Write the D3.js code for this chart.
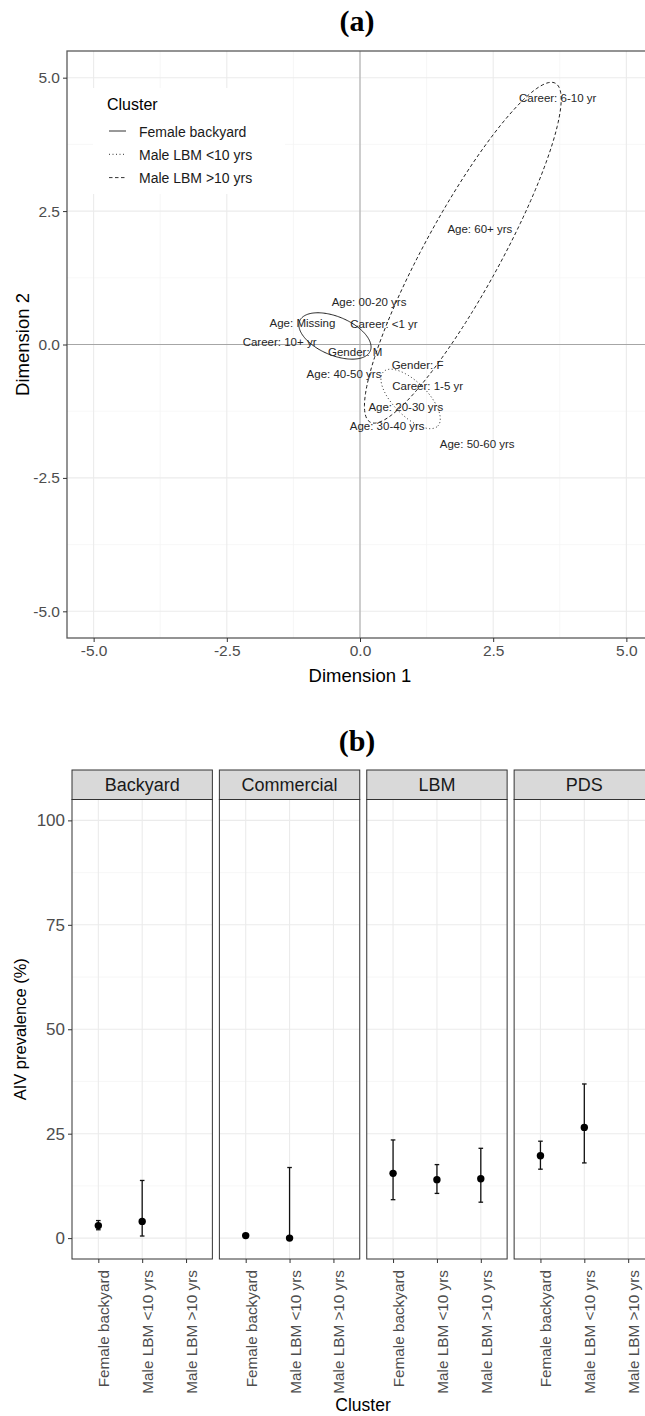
<!DOCTYPE html>
<html>
<head>
<meta charset="utf-8">
<script src="https://cdn.jsdelivr.net/npm/d3@7"></script>
<style>
  body { margin: 0; background: #fff; }
  svg { display: block; }
  text { font-family: Arial, "Liberation Sans", sans-serif; }
</style>
</head>
<body>
<svg id="chart" width="645" height="1416"></svg>
<script>
// ---------- Panel (a): MCA category coordinates ----------
const mcaLabels = ["Career: 6-10 yr", "Age: 60+ yrs", "Age: 00-20 yrs", "Age: Missing", "Career: <1 yr",
  "Career: 10+ yr", "Gender: M", "Gender: F", "Age: 40-50 yrs", "Career: 1-5 yr",
  "Age: 20-30 yrs", "Age: 30-40 yrs", "Age: 50-60 yrs"];
const mcaDim1 = [3.71, 2.25, 0.17, -1.08, 0.45, -1.51, -0.09, 1.08, -0.30, 1.27, 0.86, 0.51, 2.20];
const mcaDim2 = [4.62, 2.17, 0.80, 0.40, 0.38, 0.05, -0.14, -0.38, -0.55, -0.78, -1.17, -1.52, -1.87];

// Cluster ellipses (centre, semi-axes, rotation)
const clusters = ["Female backyard", "Male LBM <10 yrs", "Male LBM >10 yrs"];
const ellipseCx = [-0.47, 0.95, 1.93];
const ellipseCy = [0.16, -1.02, 1.72];
const ellipseSemiMajor = [0.72, 0.72, 3.62];
const ellipseSemiMinor = [0.36, 0.32, 0.71];
const ellipseAngleDeg = [-23, -45, 61.3];

const dimTicks = [-5, -2.5, 0, 2.5, 5];
const dimMinor = [-3.75, -1.25, 1.25, 3.75];

// ---------- Panel (b): AIV prevalence by farm type and cluster ----------
const facets = ["Backyard", "Commercial", "LBM", "PDS"];
const prevFacet = ["Backyard", "Backyard", "Commercial", "Commercial", "LBM", "LBM", "LBM", "PDS", "PDS"];
const prevCluster = ["Female backyard", "Male LBM <10 yrs", "Female backyard", "Male LBM <10 yrs",
  "Female backyard", "Male LBM <10 yrs", "Male LBM >10 yrs", "Female backyard", "Male LBM <10 yrs"];
const prevEstimate = [3.0, 4.0, 0.6, 0.0, 15.5, 14.0, 14.2, 19.7, 26.5];
const prevLower = [2.0, 0.5, 0.6, 0.0, 9.2, 10.7, 8.6, 16.5, 18.0];
const prevUpper = [4.2, 13.8, 0.6, 16.9, 23.5, 17.6, 21.5, 23.2, 36.9];
const prevTicks = [0, 25, 50, 75, 100];
const prevMinor = [12.5, 37.5, 62.5, 87.5];

// ---------- styling ----------
const lineStyles = { "Female backyard": null, "Male LBM <10 yrs": "1,2.5", "Male LBM >10 yrs": "3.5,2.5" };
const gridMajor = "#ebebeb", gridMinor = "#f4f4f4";
const tickText = "#4d4d4d";

const svg = d3.select("#chart");

// ================= Panel (a) =================
const ax = d3.scaleLinear().domain([-5.5, 5.5]).range([67, 653]);
const ay = d3.scaleLinear().domain([-5.5, 5.5]).range([638, 51]);
const gA = svg.append("g");

svg.append("text").attr("x", 357).attr("y", 31).attr("text-anchor", "middle")
  .style("font-family", "'Liberation Serif', 'Times New Roman', serif")
  .style("font-weight", "bold").style("font-size", "30px").text("(a)");

// grid
gA.selectAll(".vminor").data(dimMinor).join("line")
  .attr("x1", d => ax(d)).attr("x2", d => ax(d)).attr("y1", ay.range()[0]).attr("y2", ay.range()[1])
  .attr("stroke", gridMinor).attr("stroke-width", 0.7);
gA.selectAll(".hminor").data(dimMinor).join("line")
  .attr("y1", d => ay(d)).attr("y2", d => ay(d)).attr("x1", ax.range()[0]).attr("x2", ax.range()[1])
  .attr("stroke", gridMinor).attr("stroke-width", 0.7);
gA.selectAll(".vmajor").data(dimTicks).join("line")
  .attr("x1", d => ax(d)).attr("x2", d => ax(d)).attr("y1", ay.range()[0]).attr("y2", ay.range()[1])
  .attr("stroke", gridMajor).attr("stroke-width", 1.1);
gA.selectAll(".hmajor").data(dimTicks).join("line")
  .attr("y1", d => ay(d)).attr("y2", d => ay(d)).attr("x1", ax.range()[0]).attr("x2", ax.range()[1])
  .attr("stroke", gridMajor).attr("stroke-width", 1.1);

// reference lines at the origin
gA.append("line").attr("x1", ax(0)).attr("x2", ax(0)).attr("y1", ay.range()[0]).attr("y2", ay.range()[1])
  .attr("stroke", "#a6a6a6").attr("stroke-width", 1);
gA.append("line").attr("y1", ay(0)).attr("y2", ay(0)).attr("x1", ax.range()[0]).attr("x2", ax.range()[1])
  .attr("stroke", "#a6a6a6").attr("stroke-width", 1);

// legend box (inside panel, drawn over the grid)
const legend = gA.append("g");
legend.append("rect").attr("x", 93).attr("y", 88).attr("width", 192).attr("height", 106).attr("fill", "#fff");
legend.append("text").attr("x", 107).attr("y", 110).style("font-size", "16px").attr("fill", "#000").text("Cluster");
clusters.forEach((c, i) => {
  const yy = 131 + i * 23.3;
  legend.append("line").attr("x1", 109).attr("x2", 126).attr("y1", yy).attr("y2", yy)
    .attr("stroke", "#333").attr("stroke-width", 1).attr("stroke-dasharray", lineStyles[c]);
  legend.append("text").attr("x", 139).attr("y", yy + 5.5).style("font-size", "14px").attr("fill", "#1a1a1a").text(c);
});

// cluster ellipses
const ellipseLine = d3.line().x(p => ax(p[0])).y(p => ay(p[1])).curve(d3.curveLinearClosed);
clusters.forEach((c, i) => {
  const th = ellipseAngleDeg[i] * Math.PI / 180;
  const pts = d3.range(0, 2 * Math.PI, Math.PI / 90).map(t => [
    ellipseCx[i] + ellipseSemiMajor[i] * Math.cos(t) * Math.cos(th) - ellipseSemiMinor[i] * Math.sin(t) * Math.sin(th),
    ellipseCy[i] + ellipseSemiMajor[i] * Math.cos(t) * Math.sin(th) + ellipseSemiMinor[i] * Math.sin(t) * Math.cos(th)
  ]);
  gA.append("path").attr("d", ellipseLine(pts)).attr("fill", "none")
    .attr("stroke", "#222").attr("stroke-width", 1).attr("stroke-dasharray", lineStyles[c]);
});

// category labels
gA.selectAll(".mca").data(mcaLabels).join("text")
  .attr("x", (d, i) => ax(mcaDim1[i])).attr("y", (d, i) => ay(mcaDim2[i]))
  .attr("text-anchor", "middle").attr("dy", "0.35em")
  .style("font-size", "11.5px").attr("fill", "#262626").text(d => d);

// panel border
gA.append("rect").attr("x", ax.range()[0]).attr("y", ay.range()[1])
  .attr("width", ax.range()[1] - ax.range()[0]).attr("height", ay.range()[0] - ay.range()[1])
  .attr("fill", "none").attr("stroke", "#5a5a5a").attr("stroke-width", 1.3);

// axes
const fmt1 = d => d.toFixed(1);
const axB = gA.append("g").attr("transform", `translate(0,${ay.range()[0]})`)
  .call(d3.axisBottom(ax).tickValues(dimTicks).tickFormat(fmt1).tickSize(4).tickPadding(3));
const axL = gA.append("g").attr("transform", `translate(${ax.range()[0]},0)`)
  .call(d3.axisLeft(ay).tickValues(dimTicks).tickFormat(fmt1).tickSize(4).tickPadding(3));
[axB, axL].forEach(g => {
  g.select(".domain").remove();
  g.selectAll(".tick line").attr("stroke", "#333");
  g.selectAll(".tick text").attr("fill", tickText).style("font-size", "15.5px").style("font-family", "Arial, 'Liberation Sans', sans-serif");
});
gA.append("text").attr("x", ax(0)).attr("y", 682).attr("text-anchor", "middle")
  .style("font-size", "18.5px").text("Dimension 1");
gA.append("text").attr("transform", `translate(29,${ay(0)}) rotate(-90)`).attr("text-anchor", "middle")
  .style("font-size", "18.5px").text("Dimension 2");

// ================= Panel (b) =================
svg.append("text").attr("x", 357).attr("y", 751).attr("text-anchor", "middle")
  .style("font-family", "'Liberation Serif', 'Times New Roman', serif")
  .style("font-weight", "bold").style("font-size", "30px").text("(b)");

const fx = d3.scaleBand().domain(facets).range([72, 654.5]).paddingInner(0.0475).paddingOuter(0);
const px = d3.scalePoint().domain(clusters).range([0, fx.bandwidth()]).padding(0.6);
const py = d3.scaleLinear().domain([-5, 105]).range([1259, 799.5]);
const stripTop = 770;

facets.forEach(f => {
  const g = svg.append("g").attr("transform", `translate(${fx(f)},0)`);
  const w = fx.bandwidth();
  // grid
  g.selectAll(".hm").data(prevMinor).join("line")
    .attr("x1", 0).attr("x2", w).attr("y1", d => py(d)).attr("y2", d => py(d))
    .attr("stroke", gridMinor).attr("stroke-width", 0.7);
  g.selectAll(".hM").data(prevTicks).join("line")
    .attr("x1", 0).attr("x2", w).attr("y1", d => py(d)).attr("y2", d => py(d))
    .attr("stroke", gridMajor).attr("stroke-width", 1.1);
  g.selectAll(".vM").data(clusters).join("line")
    .attr("x1", d => px(d)).attr("x2", d => px(d)).attr("y1", py.range()[0]).attr("y2", py.range()[1])
    .attr("stroke", gridMajor).attr("stroke-width", 1.1);

  // error bars and points
  const idx = d3.range(prevFacet.length).filter(i => prevFacet[i] === f);
  idx.forEach(i => {
    const cx = px(prevCluster[i]);
    if (prevUpper[i] > prevLower[i]) {
      g.append("line").attr("x1", cx).attr("x2", cx).attr("y1", py(prevLower[i])).attr("y2", py(prevUpper[i]))
        .attr("stroke", "#111").attr("stroke-width", 1.3);
      [prevLower[i], prevUpper[i]].forEach(v => {
        g.append("line").attr("x1", cx - 2.3).attr("x2", cx + 2.3).attr("y1", py(v)).attr("y2", py(v))
          .attr("stroke", "#111").attr("stroke-width", 1.3);
      });
    }
    g.append("circle").attr("cx", cx).attr("cy", py(prevEstimate[i])).attr("r", 3.7).attr("fill", "#000");
  });

  // panel border
  g.append("rect").attr("x", 0).attr("y", py.range()[1]).attr("width", w)
    .attr("height", py.range()[0] - py.range()[1]).attr("fill", "none").attr("stroke", "#333").attr("stroke-width", 1);
  // strip
  g.append("rect").attr("x", 0).attr("y", stripTop).attr("width", w).attr("height", py.range()[1] - stripTop)
    .attr("fill", "#d9d9d9").attr("stroke", "#333").attr("stroke-width", 1);
  g.append("text").attr("x", w / 2).attr("y", (stripTop + py.range()[1]) / 2).attr("dy", "0.35em")
    .attr("text-anchor", "middle").style("font-size", "18px").attr("fill", "#1a1a1a").text(f);

  // x axis with rotated cluster labels
  const xa = g.append("g").attr("transform", `translate(0,${py.range()[0]})`)
    .call(d3.axisBottom(px).tickSize(4).tickFormat(""));
  xa.select(".domain").remove();
  xa.selectAll(".tick line").attr("stroke", "#333");
  g.selectAll(".xl").data(clusters).join("text")
    .attr("transform", d => `translate(${px(d)},${py.range()[0] + 11}) rotate(-90)`)
    .attr("text-anchor", "end").attr("dy", "0.72em")
    .style("font-size", "15.3px").attr("fill", tickText).text(d => d);
});

// y axis on the first facet
const yAx = svg.append("g").attr("transform", `translate(${fx(facets[0])},0)`)
  .call(d3.axisLeft(py).tickValues(prevTicks).tickSize(4).tickPadding(3));
yAx.select(".domain").remove();
yAx.selectAll(".tick line").attr("stroke", "#333");
yAx.selectAll(".tick text").attr("fill", tickText).style("font-size", "17px").style("font-family", "Arial, 'Liberation Sans', sans-serif");

svg.append("text").attr("transform", `translate(26,${py(50)}) rotate(-90)`).attr("text-anchor", "middle")
  .style("font-size", "16.5px").text("AIV prevalence (%)");
svg.append("text").attr("x", 363).attr("y", 1411).attr("text-anchor", "middle")
  .style("font-size", "17.5px").text("Cluster");
</script>
</body>
</html>
